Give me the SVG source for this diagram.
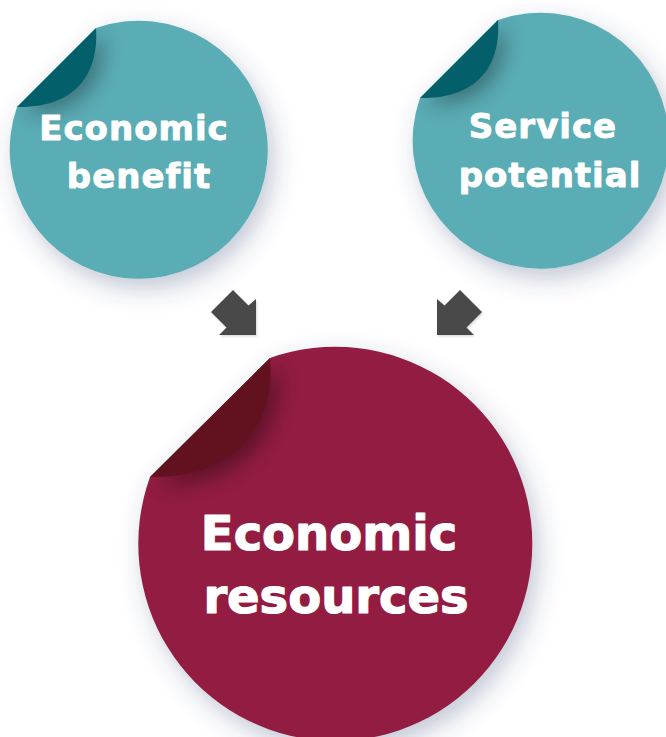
<svg xmlns="http://www.w3.org/2000/svg" width="666" height="737" viewBox="0 0 666 737">
<defs>
<style>
.teal{fill:#5aacb5}
.tealflap{fill:#035f6a}
.mar{fill:#921d43}
.marflap{fill:#62121f}
.lbl{font-family:"DejaVu Sans","Liberation Sans",sans-serif;font-weight:bold;fill:#ffffff;stroke:#ffffff;stroke-linejoin:round;text-anchor:middle}
.arrow{fill:#4a4a4a}
</style>
<filter id="ds" x="-25%" y="-25%" width="160%" height="160%">
<feDropShadow dx="6" dy="10" stdDeviation="12" flood-color="#3b4a78" flood-opacity="0.3"/>
</filter>
<filter id="blur" x="-50%" y="-50%" width="200%" height="200%">
<feGaussianBlur stdDeviation="10"/>
</filter>
<filter id="as" x="-30%" y="-30%" width="160%" height="160%">
<feDropShadow dx="1" dy="1.5" stdDeviation="1" flood-color="#000" flood-opacity="0.15"/>
</filter>
<clipPath id="c1"><path d="M96,28 A129,129 0 1 1 17,107 Z"/></clipPath>
<clipPath id="c2"><path d="M498,20 A128,128 0 1 1 420,98 Z"/></clipPath>
<clipPath id="c3"><path d="M270,358 A197,197 0 1 1 150,477 Z"/></clipPath>
</defs>

<g id="economic-benefit">
<path class="teal" filter="url(#ds)" d="M96,28 A129,129 0 1 1 17,107 Z"/>
<g clip-path="url(#c1)"><path d="M96,28 C100,72 78,109 17,107 Z" fill="#000" opacity="0.35" filter="url(#blur)" transform="translate(6,6)"/></g>
<path class="tealflap" d="M96,28 C99,72 77,108 17,107 Z"/>
<text class="lbl" x="134" y="140" font-size="34" stroke-width="0.9" letter-spacing="1">Economic</text>
<text class="lbl" x="139" y="188" font-size="34" stroke-width="0.9" letter-spacing="1">benefit</text>
</g>

<g id="service-potential">
<path class="teal" filter="url(#ds)" d="M498,20 A128,128 0 1 1 420,98 Z"/>
<g clip-path="url(#c2)"><path d="M498,20 C502,64 480,100 420,98 Z" fill="#000" opacity="0.35" filter="url(#blur)" transform="translate(6,6)"/></g>
<path class="tealflap" d="M498,20 C501,64 479,99 420,98 Z"/>
<text class="lbl" x="543" y="138" font-size="34" stroke-width="0.9" letter-spacing="1">Service</text>
<text class="lbl" x="550" y="187" font-size="34" stroke-width="0.9" letter-spacing="1">potential</text>
</g>

<g id="economic-resources">
<path class="mar" filter="url(#ds)" d="M270,358 A197,197 0 1 1 150,477 Z"/>
<g clip-path="url(#c3)"><path d="M270,358 C277,420 240,479 150,477 Z" fill="#000" opacity="0.35" filter="url(#blur)" transform="translate(8,8)"/></g>
<path class="marflap" d="M270,358 C276,420 240,478 150,477 Z"/>
<text class="lbl" x="329" y="550" font-size="48" stroke-width="1.2">Economic</text>
<text class="lbl" x="336" y="613" font-size="48" stroke-width="1.2">resources</text>
</g>

<g id="connectors">
<polygon class="arrow" filter="url(#as)" points="211,312 233,290 248.5,305.5 256,299 256,335 219,335 226.5,327.5"/>
<polygon class="arrow" filter="url(#as)" points="482,312 460,290 444.5,305.5 437,299 437,335 474,335 466.5,327.5"/>
</g>
</svg>
